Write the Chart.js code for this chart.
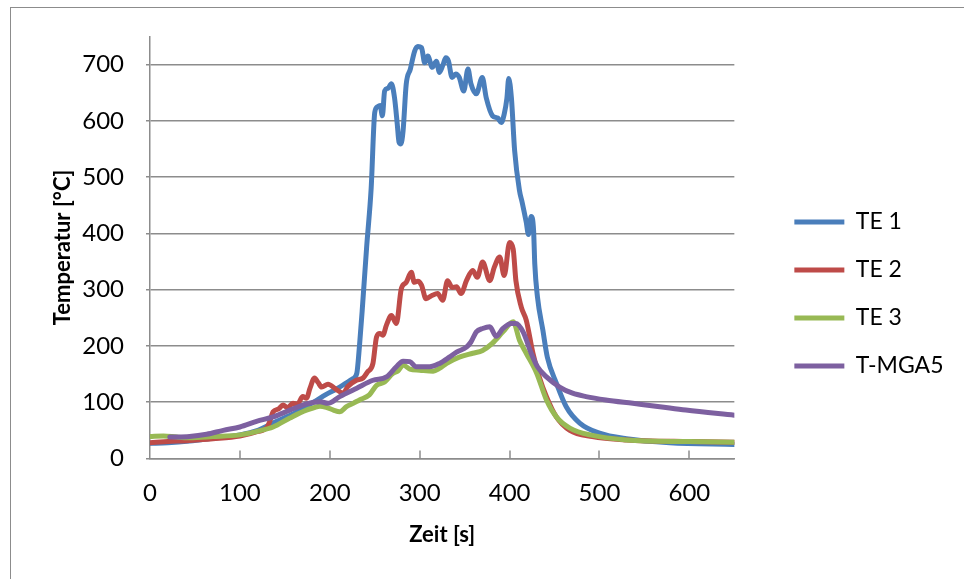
<!DOCTYPE html>
<html>
<head>
<meta charset="utf-8">
<script src="https://cdn.jsdelivr.net/npm/chart.js@4"></script>
<style>
  body { margin: 0; background: #fff; overflow: hidden; }
  #frame { position: absolute; left: 10px; top: 7px; width: 1000px; height: 620px; border: 1px solid #8c8c8c; }
  #wrap { position: absolute; left: 0; top: 0; width: 964px; height: 579px; }
</style>
</head>
<body>
<div id="frame"></div>
<div id="wrap"><canvas id="tempChart" width="964" height="579"></canvas></div>
<script>
// ==============================
// DATA
// ==============================

const seriesNames = ['TE 1', 'TE 2', 'TE 3', 'T-MGA5'];
const seriesColors = ['#4a7ebb', '#be4b48', '#98b954', '#7d60a0'];

const te1Time = [0, 20, 44, 70, 100, 120, 137, 152, 167, 182, 196, 208, 218, 225, 230, 233, 236, 241, 246, 250, 253, 256, 258.5, 261, 265, 268.5, 272, 275, 277, 279, 281.5, 285, 289.6, 294.4, 298, 302, 305.6, 309, 314, 318.5, 322, 326, 329, 332, 336, 340, 344, 349, 353.7, 357, 363, 369.6, 374, 381, 386.7, 390.7, 394, 397, 399, 402, 405.6, 411, 414, 418.5, 421, 424, 426.7, 428, 431, 437, 442, 452, 463, 478, 500, 530, 578, 650];
const te1Temp = [27, 28, 31, 36, 42, 50, 63, 74, 86, 100, 114, 124, 134, 141, 151, 200, 262, 376, 480, 615, 625, 627, 609, 653, 658, 666, 641, 595, 562, 559, 582, 665, 692, 724, 732, 730, 703, 715, 695, 706, 686, 700, 712, 706, 677, 683, 677, 653, 692, 666, 648, 677, 641, 609, 605, 597, 612, 640, 675, 641, 547, 476, 455, 420, 398, 430, 405, 346, 287, 228, 180, 134, 92, 63, 45, 35, 28, 25];

const te2Time = [0, 20, 44, 70, 100, 120, 130, 133, 137, 143, 148, 153, 159, 164, 170, 174, 178, 183, 187, 191, 198, 207, 214.8, 220, 229.6, 237, 242, 248, 252, 255.6, 259, 263, 268.5, 274, 279.6, 285, 290.7, 294, 298, 302, 307, 314, 320, 325.6, 331, 336, 341, 346, 352, 359, 364, 370, 378, 383, 389, 394, 400, 404, 407, 413, 418.5, 426, 433, 441, 452, 467, 492, 530, 600, 650];
const te2Temp = [28, 30, 32, 35, 40, 48, 55, 65, 83, 88, 95, 90, 98, 97, 110, 107, 125, 143, 135, 127, 132, 123, 116, 128, 139, 143, 154, 169, 216, 222, 219, 237, 254, 240, 302, 313, 331, 313, 315, 308, 284, 290, 293, 281, 316, 304, 305, 293, 316, 334, 322, 349, 316, 340, 358, 325, 384, 372, 316, 269, 246, 187, 145, 110, 74, 50, 39, 33, 30, 29];

const te3Time = [0, 15, 30, 44, 70, 100, 118.5, 137, 155.6, 174, 182, 189, 196, 204, 211, 218.5, 226, 233, 244, 252, 261, 270, 276, 281.5, 289, 300, 315, 322, 330, 344, 359, 370, 381, 392.6, 404, 411, 418.5, 430, 441, 452, 467, 492, 530, 600, 650];
const te3Temp = [39, 40, 38, 37, 39, 42, 48, 56, 72, 86, 90, 93, 91, 86, 83, 92, 98, 104, 113, 130, 136, 151, 156, 166, 159, 157, 155, 160, 169, 180, 187, 192, 205, 225, 243, 210, 187, 152, 104, 74, 54, 41, 33, 30, 29];

const mgaTime = [22, 44, 63, 81.5, 100, 118.5, 137, 155.6, 174, 189, 198, 211, 230, 248, 263, 274, 281.5, 289, 296, 311, 322, 333, 341, 352, 357, 363, 370, 378, 385, 392.6, 402, 407, 415, 424, 431, 441, 455.6, 470, 485, 507, 537, 567, 596, 650];
const mgaTemp = [38, 39, 43, 50, 56, 66, 74, 86, 97, 101, 98, 110, 125, 139, 145, 163, 173, 172, 163, 163, 169, 180, 189, 198, 207, 225, 231, 234, 217, 231, 240, 240, 225, 187, 163, 145, 127, 116, 110, 104, 98, 92, 86, 77];

const xTicks = [0, 100, 200, 300, 400, 500, 600];
const yTicks = [0, 100, 200, 300, 400, 500, 600, 700];

const gridColor = '#8c8c8c';

function toPoints(times, temps) {
    return times.map((t, i) => ({ x: t, y: temps[i] }));
}

const allTimes = [te1Time, te2Time, te3Time, mgaTime];
const allTemps = [te1Temp, te2Temp, te3Temp, mgaTemp];

// small inward tick marks on the x axis (Excel style)
const innerTicks = {
    id: 'innerTicks',
    beforeDatasetsDraw(chart) {
        const xs = chart.scales.x;
        const ctx = chart.ctx;
        const b = chart.chartArea.bottom;
        ctx.save();
        ctx.strokeStyle = gridColor;
        ctx.lineWidth = 1.5;
        xs.ticks.forEach(t => {
            if (t.value === 0) return;
            const px = Math.round(xs.getPixelForValue(t.value));
            ctx.beginPath();
            ctx.moveTo(px, b);
            ctx.lineTo(px, b - 8);
            ctx.stroke();
        });
        ctx.restore();
    }
};

Chart.defaults.font.family = 'Lato';
Chart.defaults.color = '#000';

const ctx = document.getElementById('tempChart').getContext('2d');
new Chart(ctx, {
    type: 'line',
    data: {
        datasets: seriesNames.map((name, i) => ({
            label: name,
            data: toPoints(allTimes[i], allTemps[i]),
            borderColor: seriesColors[i],
            backgroundColor: seriesColors[i],
            borderWidth: 5,
            borderCapStyle: 'round',
            borderJoinStyle: 'round',
            pointRadius: 0,
            cubicInterpolationMode: 'monotone',
            order: seriesNames.length - i
        }))
    },
    options: {
        responsive: false,
        animation: false,
        layout: { padding: { left: 40, top: 36, right: 10.5, bottom: 27 } },
        plugins: {
            legend: {
                position: 'right',
                maxWidth: 260,
                labels: {
                    font: { size: 23 },
                    usePointStyle: true,
                    pointStyle: 'line',
                    pointStyleWidth: 50,
                    padding: 25,
                    sort: (a, b) => a.datasetIndex - b.datasetIndex
                }
            },
            tooltip: { enabled: false }
        },
        scales: {
            x: {
                type: 'linear',
                min: 0,
                max: 650,
                ticks: { font: { size: 24 }, padding: 20, maxRotation: 0, autoSkip: false },
                afterBuildTicks: s => { s.ticks = xTicks.map(v => ({ value: v })); },
                grid: { drawOnChartArea: false, drawTicks: false, color: gridColor },
                border: { color: gridColor, width: 1.5 },
                title: { display: true, text: 'Zeit [s]', font: { size: 22, weight: 'bold' }, padding: { top: 0, bottom: 3.8 } },
                afterFit: s => { s.height = 93.5; }
            },
            y: {
                min: 0,
                max: 750,
                ticks: { font: { size: 24 }, padding: 22 },
                afterBuildTicks: s => { s.ticks = yTicks.map(v => ({ value: v })); },
                grid: { color: gridColor, lineWidth: 1.5, drawTicks: true, tickLength: 4 },
                border: { color: gridColor, width: 1.5 },
                title: { display: true, text: 'Temperatur [°C]', font: { size: 22, weight: 'bold' }, padding: { top: 9.8, bottom: 0 } },
                afterFit: s => { s.width = 110; }
            },
            spacer: {
                type: 'linear',
                position: 'right',
                grid: { display: false },
                border: { display: false },
                ticks: { display: false },
                afterFit: s => { s.width = 35; }
            }
        }
    },
    plugins: [innerTicks]
});
</script>
</body>
</html>
